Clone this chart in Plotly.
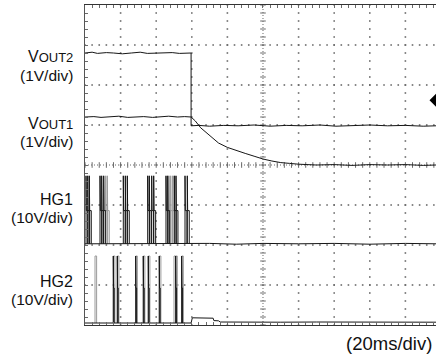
import plotly.graph_objects as go

# ---- scope settings ----------------------------------------------------
MS_PER_DIV = 20
X_END = 197.2          # visible part of the 10-division time window (ms)
Y_DIVS = 8
# channel: (zero position in divisions from the bottom, volts per division)
CHANNELS = {
    "VOUT2": (5.0, 1.0),
    "VOUT1": (4.0, 1.0),
    "HG1": (2.03, 10.0),
    "HG2": (0.05, 10.0),
}

# ---- captured waveforms (time in ms, amplitude in V) -------------------
vout2_t = [0, 4, 7, 12, 16, 21, 26, 31, 35, 40, 44, 49, 53, 57, 59.6,
           59.6, 64, 70, 78, 86, 95, 104, 113, 122, 132, 141, 150, 160,
           170, 180, 190, 197.2]
vout2_v = [1.8, 1.82, 1.79, 1.81, 1.8, 1.78, 1.8, 1.82, 1.79, 1.8, 1.8,
           1.81, 1.79, 1.8, 1.8,
           -0.02, -0.01, -0.03, -0.01, -0.02, 0.0, -0.03, -0.01, -0.02,
           0.0, -0.03, -0.02, 0.0, -0.02, -0.01, -0.03, -0.02]

vout1_t = [0, 5, 9, 14, 19, 24, 28, 33, 38, 43, 47, 52, 56, 59.6,
           62, 65, 70, 75, 80, 85, 90, 95, 100, 105, 110, 115, 120, 130,
           140, 150, 160, 170, 180, 190, 197.2]
vout1_v = [1.2, 1.21, 1.19, 1.2, 1.22, 1.19, 1.2, 1.21, 1.19, 1.2, 1.22,
           1.2, 1.21, 1.2,
           1.1, 0.93, 0.74, 0.55, 0.44, 0.36, 0.29, 0.22, 0.15, 0.1, 0.06,
           0.04, 0.02, 0.0, 0.01, -0.01, 0.01, 0.0, 0.01, -0.01, 0.0]

hg1_t = [0, 30, 59.6, 70, 85, 100, 120, 140, 160, 180, 197.2]
hg1_v = [0, 0, 0, 0.1, -0.1, 0.1, 0.0, 0.1, -0.1, 0.1, 0.0]

hg2_t = [0, 59.6, 60.3, 66, 72, 72.4, 75, 76, 90, 110, 130, 150, 170, 197.2]
hg2_v = [0, 0, 1.3, 1.25, 1.2, 0.6, 0.55, 0.25, 0.3, 0.2, 0.25, 0.2, 0.25, 0.2]

# gate-drive pulse start times (ms)
hg1_pulses = [0.56, 1.52, 2.42, 8.43, 9.38, 10.51, 21.52, 22.64, 23.76,
              35.22, 36.12, 37.47, 38.6, 45.5, 46.46, 50.17, 51.12,
              56.18, 57.47]
hg1_faint_pulses = [11.63, 12.53, 47.19, 48.15, 49.27]
hg2_pulses = [15.9, 18.15, 28.5, 32.75, 35.56, 41.74, 50.96, 54.33]
hg2_faint_pulses = [5.62, 15.9, 18.15, 28.5, 32.75, 35.56, 41.74, 50.0,
                    50.96, 54.33]

HG1_PEAK, HG1_PLATEAU = 17.0, 8.3
HG2_PEAK, HG2_PLATEAU = 16.75, 8.75

TRIGGER_LEVEL = 0.62    # VOUT2 trigger level (V)

# ---- labels -------------------------------------------------------------
channel_labels = [
    ("V<span style='font-size:13px'>OUT2</span>", "(1V/div)", "VOUT2"),
    ("V<span style='font-size:13px'>OUT1</span>", "(1V/div)", "VOUT1"),
    ("HG1", "(10V/div)", "HG1"),
    ("HG2", "(10V/div)", "HG2"),
]
# label rows, in divisions from the bottom of the screen
label_pos = {"VOUT2": (6.7, 6.25), "VOUT1": (5.03, 4.58),
             "HG1": (3.15, 2.7), "HG2": (1.08, 0.63)}
time_label = "(20ms/div)"


def to_div(ch, values):
    off, scale = CHANNELS[ch]
    return [None if v is None else off + v / scale for v in values]


def gate_pulses(ch, starts, peak, plateau, spike=0.2, width=1.1):
    xs, ys = [], []
    for t in starts:
        xs += [t, t, t + spike, t + spike, t + width, t + width, None]
        ys += [0, peak, peak, plateau, plateau, 0, None]
    return xs, to_div(ch, ys)


def bars(ch, starts, peak, width=0.9):
    xs, ys = [], []
    for t in starts:
        xs += [t, t, t + width, t + width, None]
        ys += [0, peak, peak, 0, None]
    return xs, to_div(ch, ys)


fig = go.Figure()

# ---- graticule ------------------------------------------------------------
GRID = "#6a6a6a"
gx, gy = [], []
for i in range(1, 10):
    if i == 5:
        continue
    for j in range(0, 41):
        gx.append(i * MS_PER_DIV)
        gy.append(j * 0.2)
for k in range(1, 8):
    if k == 4:
        continue
    for j in range(0, 50):
        gx.append(j * 4)
        gy.append(k)
fig.add_trace(go.Scatter(x=gx, y=gy, mode="markers",
                         marker=dict(symbol="square", size=1.6, color=GRID,
                                     line=dict(width=0)),
                         hoverinfo="skip", showlegend=False))

# centre cross with minor-division ticks
fig.add_trace(go.Scatter(x=[100, 100], y=[0, 8], mode="lines",
                         line=dict(color=GRID, width=1, dash="1px,2px"),
                         hoverinfo="skip", showlegend=False))
fig.add_trace(go.Scatter(x=[0, X_END], y=[4, 4], mode="lines",
                         line=dict(color=GRID, width=1, dash="1px,2px"),
                         hoverinfo="skip", showlegend=False))
fig.add_trace(go.Scatter(x=[100] * 41, y=[j * 0.2 for j in range(41)],
                         mode="markers",
                         marker=dict(symbol="line-ew", size=4,
                                     line=dict(color=GRID, width=1)),
                         hoverinfo="skip", showlegend=False))
fig.add_trace(go.Scatter(x=[j * 4 for j in range(50)], y=[4] * 50,
                         mode="markers",
                         marker=dict(symbol="line-ns", size=4,
                                     line=dict(color=GRID, width=1)),
                         hoverinfo="skip", showlegend=False))

# ---- waveforms --------------------------------------------------------------
FAINT = "#9a9a9a"
INK = "#161616"

x, y = bars("HG2", hg2_faint_pulses, HG2_PEAK)
fig.add_trace(go.Scatter(x=x, y=y, mode="lines",
                         line=dict(color=FAINT, width=1),
                         hoverinfo="skip", showlegend=False))
x, y = gate_pulses("HG1", hg1_faint_pulses, HG1_PEAK, HG1_PLATEAU)
fig.add_trace(go.Scatter(x=x, y=y, mode="lines",
                         line=dict(color=FAINT, width=1),
                         hoverinfo="skip", showlegend=False))

x, y = gate_pulses("HG1", hg1_pulses, HG1_PEAK, HG1_PLATEAU)
fig.add_trace(go.Scatter(x=x, y=y, mode="lines",
                         line=dict(color=INK, width=1),
                         hoverinfo="skip", showlegend=False))
x, y = gate_pulses("HG2", hg2_pulses, HG2_PEAK, HG2_PLATEAU,
                   spike=0.15, width=0.5)
fig.add_trace(go.Scatter(x=x, y=y, mode="lines",
                         line=dict(color=INK, width=1),
                         hoverinfo="skip", showlegend=False))

for ch, t, v in [("VOUT2", vout2_t, vout2_v), ("VOUT1", vout1_t, vout1_v),
                 ("HG1", hg1_t, hg1_v), ("HG2", hg2_t, hg2_v)]:
    fig.add_trace(go.Scatter(x=t, y=to_div(ch, v), mode="lines",
                             line=dict(color=INK, width=1),
                             hoverinfo="skip", showlegend=False))

# trigger level marker on the right edge
fig.add_trace(go.Scatter(x=[X_END], y=to_div("VOUT2", [TRIGGER_LEVEL]),
                         mode="markers", cliponaxis=False,
                         marker=dict(symbol="diamond", size=10, color="#000",
                                     line=dict(width=0)),
                         hoverinfo="skip", showlegend=False))

# ---- text -------------------------------------------------------------------
FONT = "Liberation Sans, Arial, sans-serif"
LABEL_X = -10 / 351      # just left of the screen edge (paper units)
ann = []
for name, scale, ch in channel_labels:
    y_name, y_scale = label_pos[ch]
    ann.append(dict(x=LABEL_X, y=y_name / Y_DIVS, xref="paper", yref="paper",
                    text=name, showarrow=False, xanchor="right",
                    yanchor="middle",
                    font=dict(family=FONT, size=16, color="#111")))
    ann.append(dict(x=LABEL_X, y=y_scale / Y_DIVS, xref="paper",
                    yref="paper", text=scale, showarrow=False,
                    xanchor="right", yanchor="middle",
                    font=dict(family=FONT, size=15.5, color="#111")))
ann.append(dict(x=349 / 351, y=-0.45 / Y_DIVS, xref="paper", yref="paper",
                text=time_label, showarrow=False, xanchor="right",
                yanchor="middle",
                font=dict(family=FONT, size=18.5, color="#111")))

fig.update_layout(
    width=436, height=357,
    margin=dict(l=85, r=0, t=5, b=32),
    paper_bgcolor="white", plot_bgcolor="white",
    annotations=ann,
    xaxis=dict(range=[0, X_END], showgrid=False, zeroline=False,
               showticklabels=False, showline=True, linecolor="#333",
               linewidth=1, mirror="ticks", ticks="inside", ticklen=3,
               tickcolor=GRID, tickvals=[0, 20, 40, 60, 80, 100, 120, 140,
                                         160, 180],
               minor=dict(dtick=4, ticks="inside", ticklen=3,
                          tickcolor=GRID)),
    yaxis=dict(range=[0, Y_DIVS], showgrid=False, zeroline=False,
               showticklabels=False, showline=True, linecolor="#555",
               linewidth=1, ticks="inside", ticklen=3, tickcolor=GRID,
               dtick=1, minor=dict(dtick=0.2, ticks="inside", ticklen=3,
                                   tickcolor=GRID)),
)

fig.write_html("out.html")
